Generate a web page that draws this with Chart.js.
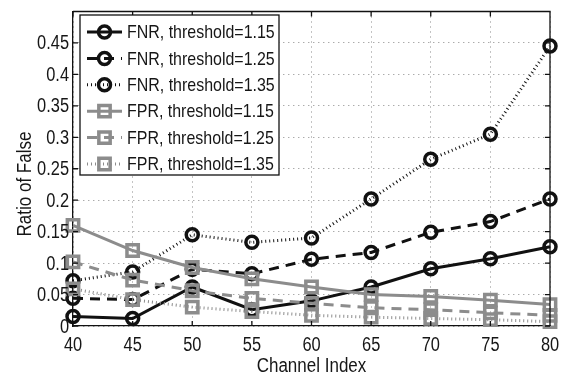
<!DOCTYPE html>
<html>
<head>
<meta charset="utf-8">
<script src="https://cdn.jsdelivr.net/npm/chart.js@4/dist/chart.umd.min.js"></script>
<style>
  html, body { margin: 0; padding: 0; background: #fff; }
  #wrap { width: 565px; height: 375px; position: relative; }
</style>
</head>
<body>
<div id="wrap"><canvas id="chart"></canvas></div>
<script>
// channel index on the x axis
const channels = [40, 45, 50, 55, 60, 65, 70, 75, 80];

// false negative ratio per threshold
const fnr115 = [0.015, 0.012, 0.062, 0.026, 0.040, 0.062, 0.091, 0.107, 0.126];
const fnr125 = [0.044, 0.042, 0.090, 0.083, 0.106, 0.117, 0.149, 0.166, 0.202];
const fnr135 = [0.072, 0.086, 0.145, 0.133, 0.140, 0.202, 0.265, 0.305, 0.445];

// false positive ratio per threshold
const fpr115 = [0.160, 0.120, 0.093, 0.075, 0.062, 0.050, 0.047, 0.041, 0.034];
const fpr125 = [0.102, 0.073, 0.056, 0.044, 0.036, 0.029, 0.026, 0.021, 0.017];
const fpr135 = [0.059, 0.042, 0.030, 0.023, 0.017, 0.014, 0.012, 0.010, 0.007];

const seriesNames = [
  "FNR, threshold=1.15", "FNR, threshold=1.25", "FNR, threshold=1.35",
  "FPR, threshold=1.15", "FPR, threshold=1.25", "FPR, threshold=1.35"
];
const seriesValues = [fnr115, fnr125, fnr135, fpr115, fpr125, fpr135];

const FONT = '"Liberation Sans", Arial, sans-serif';
const TEXT = "#161616";
const BLACK = "#111";
const GREY = "#8c8c8c";

// line look: solid, dashed, dotted for each threshold
const dashes = [[], [10, 7], [1, 3]];

const datasets = seriesValues.map((vals, i) => {
  const fnr = i < 3;
  const col = fnr ? BLACK : GREY;
  return {
    label: seriesNames[i],
    data: vals.map((v, k) => ({ x: channels[k], y: v })),
    borderColor: col,
    borderWidth: 3,
    borderDash: dashes[i % 3],
    pointStyle: fnr ? "circle" : "rect",
    pointRadius: fnr ? 6 : 8,
    pointBorderWidth: fnr ? 3.5 : 3.5,
    pointBorderColor: col,
    pointBackgroundColor: "rgba(0,0,0,0)",
    tension: 0,
    clip: false,
    order: 6 - i
  };
});

// squeezed text, the plot uses a narrow helvetica
function narrowText(ctx, str, x, y, size, sx) {
  ctx.save();
  ctx.font = size + "px " + FONT;
  ctx.translate(x, y);
  ctx.scale(sx, 1);
  ctx.fillText(str, 0, 0);
  ctx.restore();
}

const tickLabel = v => String(+v.toFixed(2));

// box, inward ticks, tick labels, axis titles and legend
const boxPlugin = {
  id: "box",
  afterDatasetsDraw(chart) {
    const ctx = chart.ctx;
    const a = chart.chartArea;
    const xs = chart.scales.x, ys = chart.scales.y;
    ctx.save();
    ctx.strokeStyle = BLACK;
    ctx.lineWidth = 1.3;
    ctx.setLineDash([]);
    ctx.beginPath();
    ctx.moveTo(a.left, a.top); ctx.lineTo(a.right, a.top); ctx.lineTo(a.right, a.bottom);
    xs.ticks.forEach(t => {
      const px = xs.getPixelForValue(t.value);
      ctx.moveTo(px, a.bottom); ctx.lineTo(px, a.bottom - 5);
      ctx.moveTo(px, a.top); ctx.lineTo(px, a.top + 5);
    });
    ys.ticks.forEach(t => {
      const py = ys.getPixelForValue(t.value);
      ctx.moveTo(a.left, py); ctx.lineTo(a.left + 5, py);
      ctx.moveTo(a.right, py); ctx.lineTo(a.right - 5, py);
    });
    ctx.stroke();

    ctx.fillStyle = TEXT;
    ctx.textBaseline = "middle";
    ctx.textAlign = "right";
    ys.ticks.forEach(t => {
      if (t.value >= 0.499) return;
      narrowText(ctx, tickLabel(t.value), a.left - 4, ys.getPixelForValue(t.value) + 1, 20, 0.82);
    });
    ctx.textAlign = "center";
    ctx.textBaseline = "alphabetic";
    xs.ticks.forEach(t => {
      narrowText(ctx, tickLabel(t.value), xs.getPixelForValue(t.value), 351, 20, 0.82);
    });

    // legend
    const lx = 80, ly = 15, lw = 199, lh = 160, row = 26.4;
    ctx.fillStyle = "#fff";
    ctx.fillRect(lx, ly, lw, lh);
    ctx.strokeStyle = BLACK;
    ctx.lineWidth = 1.3;
    ctx.strokeRect(lx, ly, lw, lh);
    ctx.textBaseline = "middle";
    chart.data.datasets.forEach((ds, i) => {
      const y = ly + 17 + i * row;
      ctx.strokeStyle = ds.borderColor;
      ctx.lineWidth = ds.borderWidth;
      ctx.setLineDash(ds.borderDash);
      ctx.beginPath();
      ctx.moveTo(87, y); ctx.lineTo(122, y);
      ctx.stroke();
      ctx.setLineDash([]);
      ctx.lineWidth = ds.pointBorderWidth;
      ctx.beginPath();
      if (ds.pointStyle === "circle") {
        ctx.arc(104.5, y, ds.pointRadius, 0, Math.PI * 2);
      } else {
        const h = ds.pointRadius * Math.SQRT1_2;
        ctx.rect(104.5 - h, y - h, 2 * h, 2 * h);
      }
      ctx.stroke();
      ctx.fillStyle = TEXT;
      ctx.textAlign = "left";
      narrowText(ctx, ds.label, 127, y + 1, 19, 0.84);
    });

    // axis titles
    ctx.fillStyle = TEXT;
    ctx.textAlign = "center";
    ctx.textBaseline = "alphabetic";
    narrowText(ctx, "Channel Index", (a.left + a.right) / 2, 372, 20, 0.85);
    ctx.translate(31, 184);
    ctx.rotate(-Math.PI / 2);
    narrowText(ctx, "Ratio of False", 0, 0, 20, 0.85);
    ctx.restore();
  }
};

new Chart(document.getElementById("chart"), {
  type: "line",
  data: { datasets: datasets },
  options: {
    responsive: true,
    maintainAspectRatio: false,
    animation: false,
    layout: { padding: { top: 8, right: 15, left: 0, bottom: 0 } },
    plugins: { legend: { display: false }, tooltip: { enabled: false } },
    scales: {
      x: {
        type: "linear",
        min: 40,
        max: 80,
        ticks: { stepSize: 5, display: false },
        grid: { color: "#888", lineWidth: 1, drawTicks: false },
        border: { color: BLACK, width: 1.3, dash: [1, 4] },
        afterFit: s => { s.height = 49; }
      },
      y: {
        min: 0,
        max: 0.5,
        ticks: { stepSize: 0.05, display: false },
        grid: { color: "#888", lineWidth: 1, drawTicks: false },
        border: { color: BLACK, width: 1.3, dash: [1, 4] },
        afterFit: s => { s.width = 73; }
      }
    }
  },
  plugins: [boxPlugin]
});
</script>
</body>
</html>
